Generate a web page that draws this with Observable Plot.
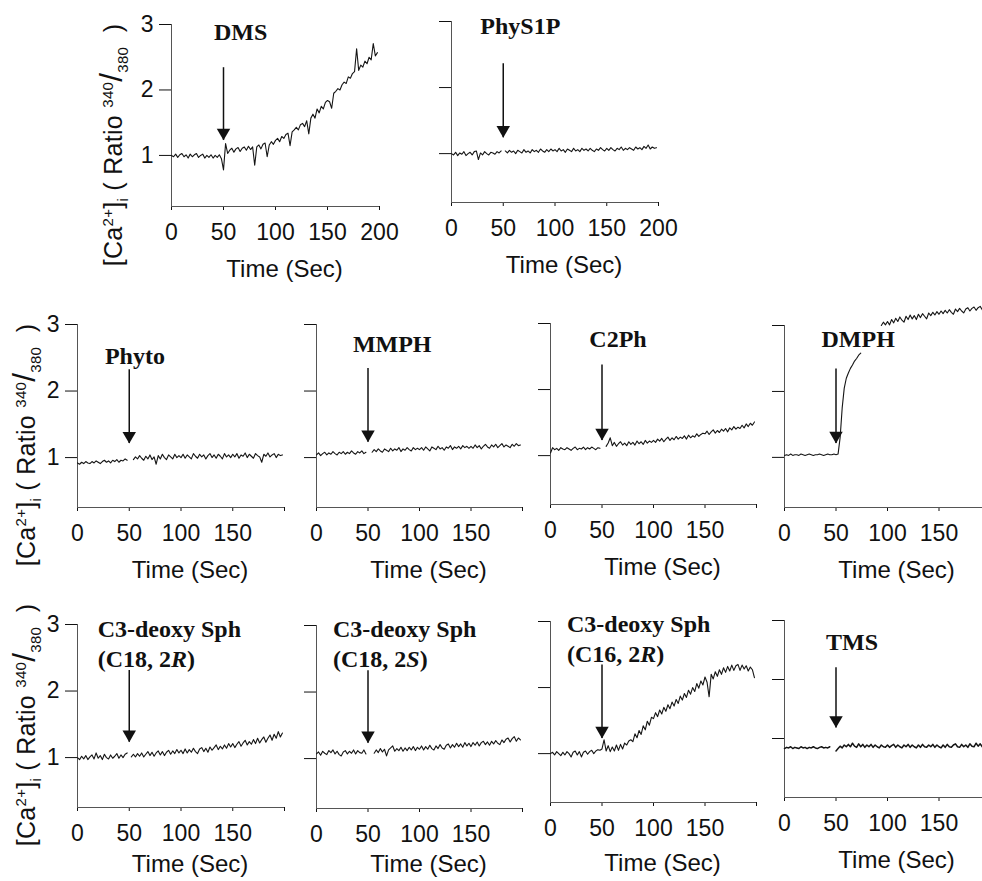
<!DOCTYPE html>
<html>
<head>
<meta charset="utf-8">
<script src="https://cdn.jsdelivr.net/npm/d3@7"></script>
<script src="https://cdn.jsdelivr.net/npm/@observablehq/plot@0.6"></script>
<style>
html, body { margin: 0; padding: 0; background: #fff; overflow: hidden; }
#fig { position: relative; width: 982px; height: 881px; overflow: hidden; background: #fff; }
#fig svg { position: absolute; }
.ylab { position: absolute; white-space: nowrap; font-family: "Liberation Sans", Arial, sans-serif; font-size: 25px; letter-spacing: 0.3px; color: #111; line-height: 1; transform: translate(-50%, -50%) rotate(-90deg); }
.ylab sup, .ylab sub { font-size: 0.6em; }
.ylab .sl { font-size: 1.25em; }
</style>
</head>
<body>
<div id="fig"></div>
<script>
// ---------------- data ----------------
const time = d3.range(0, 200, 2);           // sampling grid, seconds
const xTicks = [0, 50, 100, 150, 200];
const yTicks = [1, 2, 3];

const dms = [
  1.00,0.98,1.02,0.97,1.01,1.03,0.98,1.01,0.96,1.02,0.98,1.01,1.03,0.97,1.00,1.02,0.96,1.00,0.97,1.01,0.96,1.00,0.97,1.01,0.95,
  0.78,1.18,1.03,1.08,1.11,1.05,1.10,1.12,1.06,1.11,1.13,1.08,1.14,1.09,1.13,0.85,1.13,1.16,1.10,1.17,1.19,0.98,1.16,1.21,1.17,
  1.23,1.26,1.21,1.29,1.26,1.32,1.34,1.15,1.36,1.39,1.43,1.39,1.47,1.49,1.44,1.53,1.33,1.57,1.63,1.57,1.71,1.65,1.75,1.71,1.81,
  1.84,1.82,1.72,1.95,1.98,2.02,2.00,2.08,2.12,2.10,2.20,2.18,2.25,2.28,2.63,2.30,2.38,2.35,2.44,2.40,2.50,2.46,2.71,2.52,2.57
];
const phys1p = [
  1.00,0.98,1.02,0.97,1.01,0.99,1.03,0.97,1.00,1.02,0.98,1.03,1.04,0.91,1.01,0.98,1.03,1.00,0.98,1.02,1.01,0.99,1.03,1.01,1.04,
  null,1.04,1.01,1.05,1.02,1.04,1.00,1.05,1.03,1.01,1.06,1.02,1.04,1.01,1.06,1.03,1.05,1.02,1.07,1.04,1.02,1.06,1.03,1.07,1.04,
  1.06,1.03,1.08,1.04,1.06,1.02,1.07,1.05,1.03,1.08,1.04,1.06,1.03,1.08,1.05,1.07,1.04,1.08,1.05,1.03,1.07,1.05,1.09,1.06,1.04,
  1.08,1.05,1.09,1.06,1.04,1.08,1.06,1.10,1.05,1.08,1.06,1.09,1.07,1.05,1.10,1.07,1.09,1.06,1.11,1.08,1.13,1.07,1.10,1.08,1.09
];
const phyto = [
  0.92,0.90,0.93,0.91,0.94,0.92,0.91,0.94,0.92,0.95,0.93,0.91,0.94,0.96,0.93,0.95,0.92,0.96,0.94,0.97,0.93,0.96,0.95,0.98,0.96,
  null,null,0.97,1.01,0.98,1.03,0.99,0.96,1.02,0.98,1.04,0.97,1.01,0.90,1.03,0.98,1.05,1.00,0.97,1.04,1.01,0.98,1.05,1.00,1.03,
  1.00,1.05,0.99,1.04,1.01,0.98,1.06,1.02,0.99,1.05,1.01,1.04,0.98,1.03,1.06,1.00,1.04,0.99,1.05,1.02,0.98,1.06,1.01,1.04,1.00,
  1.05,1.01,1.06,0.99,1.04,1.02,1.07,1.00,1.05,1.02,0.99,1.06,1.03,1.01,0.93,1.05,1.02,1.07,1.01,1.04,1.06,1.00,1.05,1.03,1.04
];
const mmph = [
  1.04,1.07,1.03,1.06,1.08,1.04,1.07,1.05,1.09,1.06,1.04,1.08,1.06,1.09,1.05,1.08,1.06,1.10,1.07,1.05,1.09,1.07,1.10,1.06,1.08,
  null,null,1.08,1.12,1.09,1.13,1.10,1.08,1.13,1.11,1.09,1.14,1.10,1.13,1.11,1.15,1.09,1.13,1.11,1.15,1.12,1.10,1.15,1.12,1.14,
  1.12,1.15,1.11,1.16,1.13,1.10,1.16,1.14,1.12,1.17,1.13,1.15,1.11,1.16,1.14,1.18,1.12,1.16,1.14,1.17,1.13,1.18,1.15,1.17,1.14,
  1.17,1.14,1.19,1.15,1.18,1.13,1.17,1.20,1.16,1.14,1.19,1.16,1.20,1.15,1.18,1.21,1.16,1.19,1.17,1.15,1.20,1.17,1.21,1.18,1.19
];
const c2ph = [
  1.04,1.12,1.09,1.11,1.08,1.12,1.10,1.09,1.12,1.10,1.08,1.11,1.13,1.09,1.11,1.10,1.13,1.09,1.12,1.10,1.13,1.11,1.09,1.12,1.11,
  null,null,1.14,1.19,1.27,1.15,1.20,1.14,1.18,1.21,1.16,1.19,1.15,1.21,1.17,1.20,1.16,1.22,1.18,1.21,1.17,1.23,1.19,1.22,1.20,
  1.23,1.20,1.25,1.22,1.26,1.21,1.25,1.28,1.23,1.27,1.24,1.29,1.25,1.28,1.26,1.30,1.25,1.31,1.27,1.30,1.28,1.33,1.29,1.32,1.34,
  1.33,1.37,1.32,1.36,1.39,1.34,1.38,1.35,1.40,1.37,1.41,1.36,1.42,1.39,1.44,1.40,1.43,1.41,1.46,1.42,1.48,1.44,1.49,1.46,1.51
];
const dmph = [
  1.03,1.04,1.03,1.05,1.03,1.04,1.04,1.03,1.05,1.04,1.03,1.04,1.05,1.04,1.03,1.04,1.04,1.05,1.04,1.03,1.04,1.05,1.04,1.04,1.05,
  1.04,1.05,1.30,1.75,2.05,2.20,2.28,2.35,2.40,2.46,2.50,2.55,2.58,null,null,null,null,null,null,null,null,null,3.00,3.05,3.01,
  3.06,3.01,3.09,3.04,3.11,3.06,3.13,3.08,3.05,3.14,3.09,3.16,3.10,3.15,3.09,3.17,3.12,3.18,3.14,3.10,3.19,3.15,3.20,3.16,3.21,
  3.17,3.22,3.18,3.23,3.19,3.24,3.20,3.17,3.25,3.21,3.26,3.22,3.19,3.25,3.27,3.22,3.26,3.28,3.23,3.27,3.29,3.24,3.28,3.25,3.28
];
const c18R = [
  1.00,0.97,1.02,0.98,1.03,0.97,1.01,1.04,0.98,1.07,0.99,1.03,0.97,1.05,1.00,0.98,1.04,0.99,1.02,1.06,0.99,1.04,1.00,1.05,1.07,
  null,1.01,1.05,1.01,1.06,1.02,1.07,1.01,1.05,1.09,1.03,1.08,1.02,1.07,1.10,1.04,1.09,1.03,1.08,1.11,1.05,1.10,1.06,1.12,1.07,
  1.11,1.06,1.13,1.07,1.12,1.08,1.14,1.09,1.06,1.13,1.15,1.09,1.14,1.08,1.16,1.11,1.15,1.19,1.12,1.17,1.13,1.19,1.14,1.21,1.16,
  1.21,1.15,1.20,1.24,1.17,1.22,1.26,1.19,1.24,1.20,1.27,1.21,1.29,1.22,1.27,1.31,1.23,1.29,1.34,1.26,1.35,1.29,1.39,1.31,1.37
];
const c18S = [
  1.07,1.10,1.05,1.11,1.08,1.06,1.12,1.09,1.13,1.07,1.11,1.06,1.04,1.10,1.12,1.07,1.11,1.08,1.13,1.07,1.12,1.09,1.08,1.13,1.07,
  null,null,null,1.08,1.13,1.09,1.15,1.10,1.14,1.04,1.13,1.16,1.19,1.11,1.15,1.12,1.17,1.11,1.16,1.12,1.17,1.13,1.18,1.12,1.17,
  1.14,1.19,1.13,1.18,1.14,1.20,1.15,1.13,1.19,1.15,1.21,1.16,1.14,1.20,1.22,1.16,1.21,1.17,1.23,1.18,1.22,1.17,1.24,1.19,1.23,
  1.18,1.24,1.20,1.25,1.19,1.24,1.26,1.21,1.25,1.20,1.26,1.22,1.27,1.23,1.21,1.28,1.24,1.29,1.31,1.25,1.30,1.33,1.26,1.31,1.28
];
const c16R = [
  1.00,1.02,0.98,1.03,1.00,0.97,1.02,0.98,1.03,1.00,0.95,1.02,1.04,0.98,1.03,0.95,1.02,1.04,0.99,1.03,1.05,1.00,1.04,1.06,1.05,
  1.07,1.21,1.04,1.12,1.03,1.10,1.04,1.13,1.05,1.14,1.07,1.16,1.13,1.19,1.21,1.18,1.30,1.24,1.35,1.29,1.42,1.36,1.49,1.43,1.55,
  1.53,1.62,1.56,1.66,1.60,1.70,1.64,1.74,1.68,1.78,1.72,1.82,1.76,1.87,1.81,1.91,1.85,1.96,1.90,2.00,1.94,2.06,1.99,2.10,2.04,
  2.16,2.08,1.86,2.20,2.13,2.24,2.17,2.27,2.20,2.30,2.23,2.32,2.25,2.34,2.26,2.33,2.35,2.26,2.34,2.28,2.33,2.25,2.31,2.27,2.15
];
const tms = [
  0.83,0.85,0.84,0.86,0.83,0.85,0.84,0.83,0.86,0.84,0.85,0.83,0.85,0.84,0.86,0.84,0.83,0.85,0.86,0.84,0.85,0.84,0.86,null,null,
  0.79,0.83,0.87,0.84,0.89,0.86,0.90,0.86,0.92,0.87,0.85,0.91,0.86,0.90,0.85,0.89,0.86,0.90,0.85,0.89,0.86,0.84,0.89,0.86,0.85,
  0.89,0.85,0.88,0.90,0.85,0.89,0.86,0.84,0.89,0.86,0.90,0.85,0.89,0.86,0.84,0.89,0.85,0.90,0.86,0.85,0.89,0.86,0.90,0.85,0.89,
  0.86,0.84,0.89,0.85,0.90,0.86,0.85,0.89,0.91,0.86,0.85,0.90,0.86,0.89,0.85,0.91,0.87,0.86,0.92,0.87,0.91,0.86,0.90,0.92,0.87
];

const seriesList = [dms, phys1p, phyto, mmph, c2ph, dmph, c18R, c18S, c16R, tms];
// panel titles: lines of [text, italic] segments
const titleLines = [
  [[["DMS", false]]],
  [[["PhyS1P", false]]],
  [[["Phyto", false]]],
  [[["MMPH", false]]],
  [[["C2Ph", false]]],
  [[["DMPH", false]]],
  [[["C3-deoxy Sph", false]], [["(C18, 2", false], ["R", true], [")", false]]],
  [[["C3-deoxy Sph", false]], [["(C18, 2", false], ["S", true], [")", false]]],
  [[["C3-deoxy Sph", false]], [["(C16, 2", false], ["R", true], [")", false]]],
  [[["TMS", false]]]
];
// title anchor in data units (time, ratio)
const titleX = [67, 67, 56, 74, 66, 72, 20, 16.5, 16.5, 66];
const titleY = [2.76, 2.81, 2.40, 2.58, 2.64, 2.67, 2.80, 2.82, 2.83, 2.49];
// addition arrow (at 50 s): shaft top and tip, ratio units
const arrowTime = 50;
const arrowTop = [2.34, 2.36, 2.32, 2.34, 2.37, 2.34, 2.31, 2.32, 2.34, 2.20];
const arrowTip = [1.23, 1.24, 1.21, 1.23, 1.23, 1.21, 1.23, 1.23, 1.23, 1.18];
const yMins = [0.22, 0.26, 0.25, 0.25, 0.26, 0.24, 0.25, 0.25, 0.26, 0.0];

// ---------------- layout (pixels) ----------------
const layout = [
  {x0: 171, x200: 379, y3: 24,  yAxis: 206, yLab: true,  show200: true,  anchor: "middle", timeDy: 63},
  {x0: 451, x200: 658, y3: 21,  yAxis: 202, yLab: false, show200: true,  anchor: "middle", timeDy: 63},
  {x0: 77,  x200: 284, y3: 324, yAxis: 507, yLab: true,  show200: false, anchor: "middle", timeDy: 63},
  {x0: 316, x200: 522, y3: 324, yAxis: 507, yLab: false, show200: false, anchor: "middle", timeDy: 63},
  {x0: 550, x200: 756, y3: 323, yAxis: 504, yLab: false, show200: false, anchor: "middle", timeDy: 63},
  {x0: 784, x200: 990, y3: 325, yAxis: 507, yLab: false, show200: false, anchor: "middle", timeDy: 63},
  {x0: 77,  x200: 284, y3: 624, yAxis: 807, yLab: true,  show200: false, anchor: "start",  timeDy: 57},
  {x0: 316, x200: 522, y3: 625, yAxis: 808, yLab: false, show200: false, anchor: "start",  timeDy: 56},
  {x0: 550, x200: 756, y3: 621, yAxis: 802, yLab: false, show200: false, anchor: "start",  timeDy: 61},
  {x0: 784, x200: 990, y3: 620, yAxis: 797, yLab: false, show200: false, anchor: "middle", timeDy: 63, thick: true}
];
const ML = 70, MR = 15, MT = 30, MB = 80;
const fig = document.getElementById("fig");

layout.forEach((p, i) => {
  const vals = seriesList[i];
  const data = time.map((t, j) => ({t, v: vals[j]}));
  const arrow = [{t: arrowTime, top: arrowTop[i], tip: arrowTip[i]}];
  const W = p.x200 - p.x0, H = p.yAxis - p.y3;
  const svg = Plot.plot({
    width: ML + W + MR,
    height: MT + H + MB,
    marginLeft: ML, marginRight: MR, marginTop: MT, marginBottom: MB,
    style: {fontFamily: "'Liberation Sans', Arial, sans-serif", fontSize: "23px", color: "#111", background: "transparent", overflow: "visible"},
    x: {domain: [0, 200], ticks: xTicks, tickSize: 4, tickPadding: 13, label: null,
        tickFormat: d => (p.show200 || d !== 200) ? String(d) : ""},
    y: {domain: [yMins[i], 3], ticks: yTicks, tickSize: 12, tickPadding: 6, label: null,
        tickFormat: d => p.yLab ? String(d) : ""},
    marks: [
      Plot.ruleX([0], {stroke: "#555", strokeWidth: 1}),
      Plot.ruleY([yMins[i]], {stroke: "#555", strokeWidth: 1}),
      Plot.line(data, {x: "t", y: "v", stroke: "#151515", strokeWidth: p.thick ? 1.5 : 1.1}),
      Plot.ruleX(arrow, {x: "t", y1: "top", y2: "tip", stroke: "#111", strokeWidth: 1.5}),
      Plot.dot(arrow, {x: "t", y: "tip", symbol: "triangle", r: 5, rotate: 180, fill: "#111", stroke: "none", dy: -7.8}),
      Plot.text(["Time (Sec)"], {text: d => d, frameAnchor: "bottom", lineAnchor: "middle", dy: p.timeDy, dx: 9, fontSize: 24, fill: "#111"})
    ]
  });
  svg.style.left = (p.x0 - ML) + "px";
  svg.style.top = (p.y3 - MT) + "px";
  fig.appendChild(svg);

  const sx = svg.scale("x"), sy = svg.scale("y");
  const g = d3.select(svg).append("g")
    .attr("font-family", "'Liberation Serif', 'Times New Roman', serif")
    .attr("font-weight", "bold")
    .attr("font-size", 24)
    .attr("fill", "#111");
  titleLines[i].forEach((line, k) => {
    const txt = g.append("text")
      .attr("x", sx.apply(titleX[i]))
      .attr("y", sy.apply(titleY[i]) + k * 30)
      .attr("text-anchor", p.anchor);
    line.forEach(([s, it]) => txt.append("tspan").attr("font-style", it ? "italic" : null).text(s));
  });
});

// rotated y-axis titles (one per row)
const yLabelPos = [[113, 145], [26, 445], [26, 725]];
yLabelPos.forEach(([x, y]) => {
  const d = document.createElement("div");
  d.className = "ylab";
  d.innerHTML = "[Ca<sup>2+</sup>]<sub>i</sub> (&nbsp;Ratio&nbsp;<sup>340</sup><span class=\"sl\">/</span><sub>380</sub>&nbsp;&nbsp;)";
  d.style.left = x + "px";
  d.style.top = y + "px";
  fig.appendChild(d);
});
</script>
</body>
</html>
